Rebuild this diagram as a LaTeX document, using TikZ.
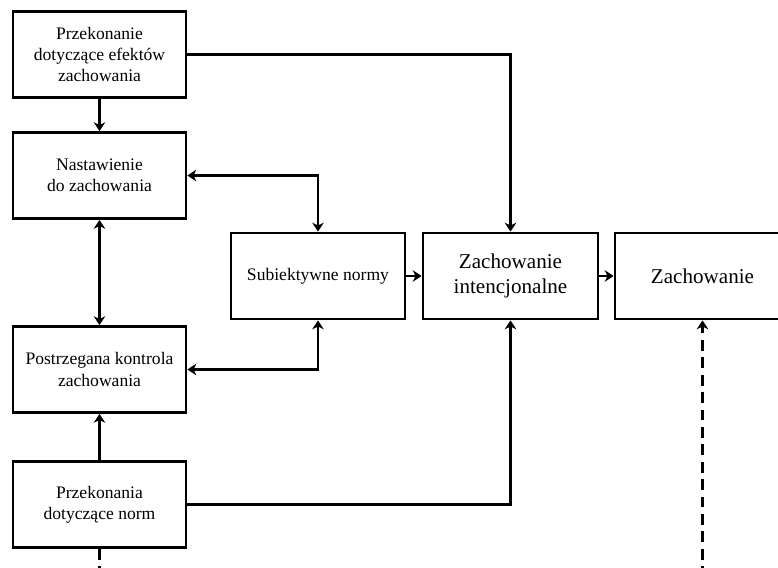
\documentclass[tikz,border=0pt]{standalone}
\usepackage{fontspec}
\setmainfont{Liberation Serif}
\usetikzlibrary{
	arrows.meta,
	calc
}

\tikzset{
	box/.style={draw, line width=1.6pt, minimum width=3.46cm, minimum height=1.72cm,
		align=center, inner sep=2pt, font=\fontsize{10}{12}\selectfont},
	bigbox/.style={box, minimum width=3.5cm, font=\fontsize{12}{14}\selectfont},
	link/.style={line width=1.6pt, -{Stealth[length=5pt, width=6.5pt, inset=1.5pt]}},
	twoway/.style={line width=1.6pt, {Stealth[length=5pt, width=6.5pt, inset=1.5pt]}-{Stealth[length=5pt, width=6.5pt, inset=1.5pt]}},
	outside/.style={link, dash pattern=on 6.2pt off 3.7pt}
}

\begin{document}
\begin{tikzpicture}
	\useasboundingbox (0,0) rectangle (15.56,11.34);
	\clip (0,0) rectangle (15.56,11.34);

	% left column
	\node[box] (belief) at (1.99,10.25) {Przekonanie\\dotyczące efektów\\zachowania};
	\node[box] (attitude) at (1.99,7.83) {Nastawienie\\do zachowania};
	\node[box] (control) at (1.99,3.95) {Postrzegana kontrola\\zachowania};
	\node[box] (normbelief) at (1.99,1.25) {Przekonania\\dotyczące norm};

	% middle row
	\node[box, minimum width=3.48cm] (norms) at (6.36,5.82) {Subiektywne normy};
	\node[bigbox] (intent) at (10.21,5.82) {Zachowanie\\intencjonalne};
	\node[bigbox] (behav) at (14.05,5.82) {Zachowanie};

	% loose ends below the picture
	\coordinate (in1) at ($(behav.south |- 0,0) + (0,-0.2)$);
	\coordinate (out1) at ($(normbelief.south |- 0,0) + (0,-0.2)$);

	\draw[link] (belief) -- (attitude);
	\draw[twoway] (attitude) -- (control);
	\draw[link] (normbelief) -- (control);
	\draw[link] (belief.east) -| (intent.north);
	\draw[twoway] (attitude.east) -| (norms.north);
	\draw[twoway] (control.east) -| (norms.south);
	\draw[link] (normbelief.east) -| (intent.south);
	\draw[link] (norms) -- (intent);
	\draw[link] (intent) -- (behav);
	\draw[outside] (in1) -- (behav.south);
	\draw[line width=1.6pt, dash pattern=on 6.2pt off 3.7pt] (normbelief.south) -- (out1);
\end{tikzpicture}
\end{document}
